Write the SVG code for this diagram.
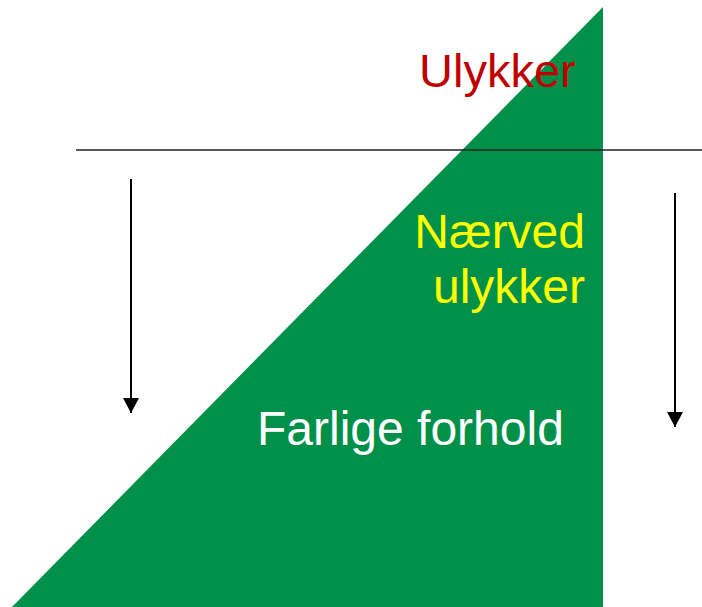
<svg xmlns="http://www.w3.org/2000/svg" width="702" height="607" viewBox="0 0 702 607">
<style>
.t{font-family:"Liberation Sans",Arial,sans-serif;font-size:48px}
.a{stroke:#000;stroke-width:2;fill:none}
</style>
<defs>
<marker id="ah" markerWidth="16" markerHeight="15" refX="8" refY="15" orient="0" markerUnits="userSpaceOnUse">
<path d="M0,0 L16,0 L8,15 Z" fill="#000"/>
</marker>
</defs>
<rect width="702" height="607" fill="#fff"/>
<g id="triangle">
<polygon points="603,7 603,607 12,607" fill="#00904A"/>
</g>
<g id="connectors">
<line x1="76" y1="150" x2="702" y2="150" stroke="#222" stroke-width="1.3"/>
<line class="a" x1="131" y1="179" x2="131" y2="413" marker-end="url(#ah)"/>
<line class="a" x1="675" y1="193" x2="675" y2="427" marker-end="url(#ah)"/>
</g>
<g id="ulykker"><text class="t" x="419" y="87" fill="#C00000" style="font-size:47px">Ulykker</text></g>
<g id="naerved"><text class="t" x="585" y="248" fill="#FFFF00" text-anchor="end">Nærved</text><text class="t" x="585" y="303" fill="#FFFF00" text-anchor="end">ulykker</text></g>
<g id="farlige"><text class="t" x="257" y="445" fill="#fff">Farlige forhold</text></g>
</svg>
